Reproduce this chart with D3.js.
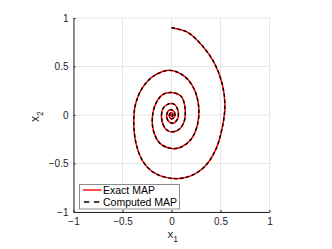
<!DOCTYPE html>
<html>
<head>
<meta charset="utf-8">
<script src="https://cdn.jsdelivr.net/npm/d3@7"></script>
<style>
  body { margin: 0; background: #fff; }
  svg { display: block; font-family: "Liberation Sans", Arial, Helvetica, sans-serif; }
</style>
</head>
<body>
<script>
// data (trajectory, clockwise from the start point)
const mapX = [0.00, 0.16, 0.31, 0.44, 0.52, 0.545, 0.52, 0.45, 0.34, 0.19, 0.02, -0.17, -0.29, -0.36, -0.385, -0.365, -0.29, -0.17, -0.01,
  0.13, 0.23, 0.278, 0.265, 0.20, 0.10, 0.00, -0.12, -0.185, -0.195, -0.16, -0.09, 0.00,
  0.10, 0.14, 0.12, 0.05, -0.04, -0.095, -0.09, -0.04, 0.02,
  0.065, 0.06, 0.01, -0.04, -0.045, -0.01,
  0.03, 0.03, 0.00, -0.02, -0.02, 0.00, 0.015, 0.005, -0.008, 0.00, 0.00];
const mapY = [0.90, 0.855, 0.72, 0.53, 0.31, 0.10, -0.12, -0.36, -0.53, -0.63, -0.655, -0.60, -0.48, -0.30, -0.07, 0.12, 0.29, 0.41, 0.46,
  0.40, 0.27, 0.08, -0.10, -0.25, -0.33, -0.345, -0.29, -0.16, -0.02, 0.12, 0.21, 0.232,
  0.19, 0.05, -0.09, -0.165, -0.16, -0.07, 0.06, 0.11, 0.115,
  0.05, -0.045, -0.085, -0.05, 0.02, 0.055,
  0.03, -0.02, -0.04, -0.02, 0.01, 0.025, 0.005, -0.015, -0.005, 0.005, 0.00];
const tickValues = [-1, -0.5, 0, 0.5, 1];
const legendLabels = ["Exact MAP", "Computed MAP"];

const width = 332, height = 249;
const plotLeft = 73.5, plotRight = 269.5, plotTop = 18, plotBottom = 212;
const axisColor = "#262626";
const gridColor = "#e6e6e6";

const points = mapX.map((x, i) => [x, mapY[i]]);

const x = d3.scaleLinear().domain([-1, 1]).range([plotLeft, plotRight]);
const y = d3.scaleLinear().domain([-1, 1]).range([plotBottom, plotTop]);

const svg = d3.select("body").append("svg")
  .attr("width", width)
  .attr("height", height);

svg.append("rect").attr("width", width).attr("height", height).attr("fill", "#fff");

// grid
const grid = svg.append("g");
grid.selectAll(".gx").data(tickValues).enter().append("line")
  .attr("x1", d => x(d)).attr("x2", d => x(d))
  .attr("y1", plotTop).attr("y2", plotBottom)
  .attr("stroke", gridColor).attr("stroke-width", 1);
grid.selectAll(".gy").data(tickValues).enter().append("line")
  .attr("x1", plotLeft).attr("x2", plotRight)
  .attr("y1", d => y(d)).attr("y2", d => y(d))
  .attr("stroke", gridColor).attr("stroke-width", 1);

// axes
const xAxis = d3.axisBottom(x).tickValues(tickValues).tickSizeInner(-2).tickSizeOuter(0).tickPadding(6)
  .tickFormat(d => d3.format("")(d));
const yAxis = d3.axisLeft(y).tickValues(tickValues).tickSizeInner(-2).tickSizeOuter(0).tickPadding(6)
  .tickFormat(d => d3.format("")(d));

const gx = svg.append("g").attr("transform", `translate(0,${plotBottom})`).call(xAxis);
const gy = svg.append("g").attr("transform", `translate(${plotLeft},0)`).call(yAxis);
[gx, gy].forEach(g => {
  g.select(".domain").attr("stroke", axisColor).attr("stroke-width", 1);
  g.selectAll(".tick line").attr("stroke", axisColor);
  g.selectAll(".tick text").attr("fill", axisColor).attr("font-size", 10)
    .attr("font-family", "'Liberation Sans', Arial, sans-serif");
});
gx.selectAll(".tick text").attr("dy", "0.71em").attr("y", 6);
gy.selectAll(".tick text").attr("x", -5);

// curves
const line = d3.line()
  .x(d => x(d[0]))
  .y(d => y(d[1]))
  .curve(d3.curveCatmullRom.alpha(0.5));

svg.append("path").datum(points)
  .attr("d", line)
  .attr("fill", "none")
  .attr("stroke", "#ff0000")
  .attr("stroke-width", 1.5);

svg.append("path").datum(points)
  .attr("d", line)
  .attr("fill", "none")
  .attr("stroke", "#000")
  .attr("stroke-width", 1.4)
  .attr("stroke-dasharray", "3.5,2.5");

// axis labels
svg.append("text")
  .attr("x", 167.5).attr("y", 237.5)
  .attr("fill", axisColor).attr("font-size", 11.5)
  .text("x")
  .append("tspan").attr("dy", 4).attr("font-size", 8.5).text("1");

svg.append("text")
  .attr("transform", "translate(38.5,122) rotate(-90)")
  .attr("fill", axisColor).attr("font-size", 12)
  .text("x")
  .append("tspan").attr("dy", 4.5).attr("font-size", 8.5).text("2");

// legend
const legend = svg.append("g");
legend.append("rect")
  .attr("x", 79.5).attr("y", 184.5)
  .attr("width", 100).attr("height", 24.5)
  .attr("fill", "#fff")
  .attr("stroke", "#8c8c8c").attr("stroke-width", 1);

const legendStyles = [
  { color: "#ff0000", dash: null, x1: 83, x2: 101.5 },
  { color: "#000", dash: "5.3,4.7", x1: 84, x2: 99.3 }
];
legend.selectAll(".item").data(legendLabels).enter().append("g")
  .each(function (d, i) {
    const g = d3.select(this);
    const cy = 190 + i * 12;
    const st = legendStyles[i];
    g.append("line")
      .attr("x1", st.x1).attr("x2", st.x2)
      .attr("y1", cy).attr("y2", cy)
      .attr("stroke", st.color)
      .attr("stroke-width", 1.4)
      .attr("stroke-dasharray", st.dash);
    g.append("text")
      .attr("x", 103).attr("y", cy + 3.8)
      .attr("fill", "#000").attr("font-size", 10.5)
      .text(d);
  });
</script>
</body>
</html>
